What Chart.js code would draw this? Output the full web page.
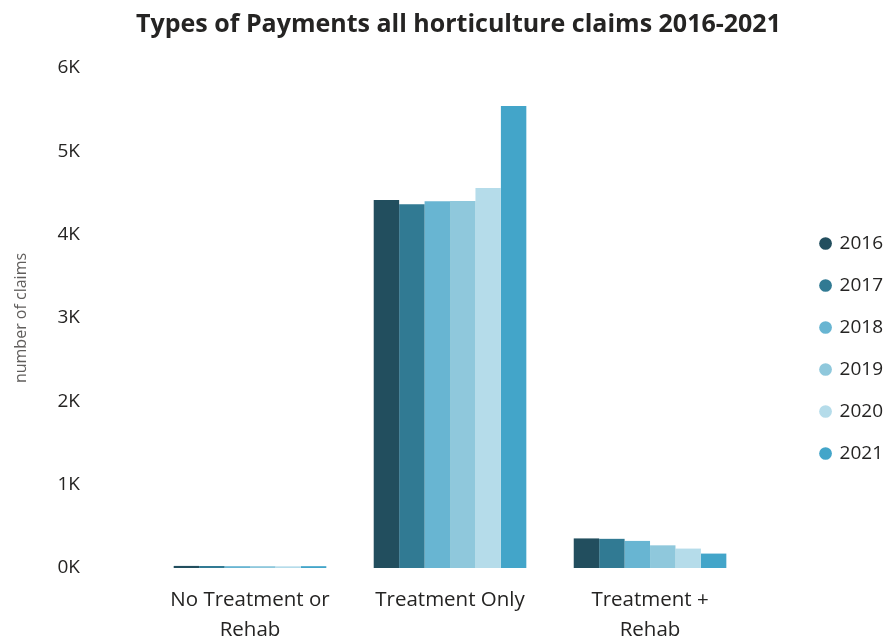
<!DOCTYPE html>
<html>
<head>
<meta charset="utf-8">
<script src="https://cdn.jsdelivr.net/npm/chart.js@4"></script>
<style>
  html, body { margin: 0; padding: 0; background: #ffffff; }
  #wrap { width: 889px; height: 638px; position: relative; }
</style>
</head>
<body>
<div id="wrap"><canvas id="chart" width="889" height="638"></canvas></div>
<script>
// Payment type categories (multi-line labels)
const categories = [["No Treatment or", "Rehab"], "Treatment Only", ["Treatment +", "Rehab"]];

// Claims per year, in category order
const years = ["2016", "2017", "2018", "2019", "2020", "2021"];
const claims2016 = [25, 4415, 355];
const claims2017 = [24, 4365, 350];
const claims2018 = [22, 4400, 325];
const claims2019 = [22, 4405, 272];
const claims2020 = [20, 4560, 233];
const claims2021 = [22, 5545, 173];

// Value axis ticks
const yMax = 6000;
const yStep = 1000;

const yearColors = ["#224E5E", "#317A93", "#68B5D2", "#8FC8DC", "#B5DCEA", "#43A5C9"];
const series = [claims2016, claims2017, claims2018, claims2019, claims2020, claims2021];

const FONT = "'Open Sans', 'Noto Sans', sans-serif";

new Chart(document.getElementById('chart'), {
  type: 'bar',
  data: {
    labels: categories,
    datasets: series.map((vals, i) => ({
      label: years[i],
      data: vals,
      backgroundColor: yearColors[i],
      borderWidth: 0,
      categoryPercentage: 0.763,
      barPercentage: 1.0,
      yAxisID: 'y'
    }))
  },
  options: {
    responsive: false,
    animation: false,
    layout: { padding: { top: 0, right: -4, bottom: 0, left: 24 } },
    plugins: {
      title: {
        display: true,
        text: 'Types of Payments all horticulture claims 2016-2021',
        color: '#252423',
        font: { family: FONT, size: 25, weight: 'bold', lineHeight: 1.2 },
        padding: { top: 10, bottom: 28 }
      },
      legend: {
        position: 'right',
        align: 'center',
        // empty title only reserves space above the items
        title: { display: true, text: '', font: { size: 10, lineHeight: 1.2 }, padding: { top: 47, bottom: 0 } },
        labels: {
          usePointStyle: true,
          pointStyle: 'circle',
          boxWidth: 9,
          boxHeight: 9,
          padding: 23,
          color: '#252423',
          font: { family: FONT, size: 19 }
        }
      },
      tooltip: { enabled: false }
    },
    scales: {
      x: {
        grid: { display: false, drawTicks: false },
        border: { display: false },
        ticks: {
          color: '#252423',
          padding: 17,
          maxRotation: 0,
          autoSkip: false,
          font: { family: FONT, size: 20.5, lineHeight: 1.46 }
        },
        afterFit: s => { s.height = 70; }
      },
      y: {
        min: 0,
        max: yMax,
        grid: { display: false, drawTicks: false },
        border: { display: false },
        ticks: {
          stepSize: yStep,
          padding: 70,
          color: '#252423',
          font: { family: FONT, size: 19 },
          callback: v => (v / 1000) + 'K'
        },
        title: {
          display: true,
          text: 'number of claims',
          color: '#605E5C',
          font: { family: FONT, size: 16, lineHeight: 1.2 },
          padding: { top: -12, bottom: 0 }
        },
        afterFit: s => { s.width = 126; s.paddingTop = 0; s.paddingBottom = 0; }
      },
      // spacer between plot area and legend
      gap: {
        type: 'linear',
        position: 'right',
        display: true,
        grid: { display: false, drawTicks: false },
        border: { display: false },
        ticks: { display: false },
        afterFit: s => { s.width = 48; s.paddingTop = 0; s.paddingBottom = 0; }
      }
    }
  }
});
</script>
</body>
</html>
